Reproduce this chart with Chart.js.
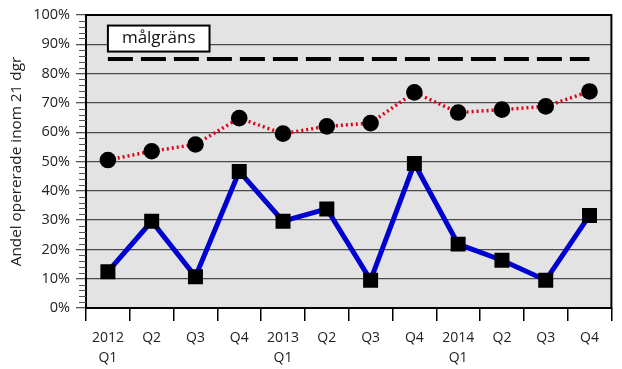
<!DOCTYPE html>
<html><head><meta charset="utf-8">
<script src="https://cdn.jsdelivr.net/npm/chart.js@4/dist/chart.umd.min.js"></script>
<style>html,body{margin:0;padding:0;background:#fff}#wrap{width:622px;height:369px}</style>
</head><body><div id="wrap"><canvas id="c" width="622" height="369"></canvas></div>
<script>
const categories = [['2012','Q1'],'Q2','Q3','Q4',['2013','Q1'],'Q2','Q3','Q4',['2014','Q1'],'Q2','Q3','Q4'];
const andelTotal = [50.5, 53.5, 55.8, 64.8, 59.5, 62.0, 63.1, 73.6, 66.7, 67.7, 68.8, 73.9];
const andelSerie2 = [12.4, 29.6, 10.7, 46.6, 29.6, 33.8, 9.5, 49.3, 21.8, 16.3, 9.5, 31.6];
const malgrans = [85, 85, 85, 85, 85, 85, 85, 85, 85, 85, 85, 85];
const malgransLabel = 'målgräns';
const yTitle = 'Andel opererade inom 21 dgr';
const yTicks = [0,10,20,30,40,50,60,70,80,90,100];

const FONT = '"Open Sans", sans-serif';

const bgPlugin = {
  id: 'bg',
  beforeDraw(chart) {
    const {ctx, chartArea: a} = chart;
    ctx.save();
    ctx.fillStyle = '#e3e3e3';
    ctx.fillRect(a.left, a.top, a.right - a.left, a.bottom - a.top);
    ctx.restore();
  },
  afterDatasetsDraw(chart) {
    const {ctx, chartArea: a, scales} = chart;
    ctx.save();
    ctx.strokeStyle = '#000';
    ctx.lineWidth = 2;
    ctx.strokeRect(a.left, a.top, a.right - a.left, a.bottom - a.top);
    // minor ticks on y axis
    const y = scales.y;
    ctx.lineWidth = 1;
    ctx.strokeStyle = '#555';
    for (let v = 0; v <= 100; v += 2) {
      if (v % 10 === 0) continue;
      const py = Math.round(y.getPixelForValue(v)) + 0.5;
      ctx.beginPath();
      ctx.moveTo(a.left - 7, py);
      ctx.lineTo(a.left, py);
      ctx.stroke();
    }
    // label box for målgräns
    const x = scales.x;
    const bx = x.getPixelForValue(0);
    const by = y.getPixelForValue(96.4);
    ctx.font = '17px ' + FONT;
    const tw = ctx.measureText(malgransLabel).width;
    const bw = tw + 28, bh = 26;
    ctx.fillStyle = '#fff';
    ctx.fillRect(bx, by, bw, bh);
    ctx.lineWidth = 2;
    ctx.strokeStyle = '#000';
    ctx.strokeRect(bx, by, bw, bh);
    ctx.fillStyle = '#111';
    ctx.textAlign = 'center';
    ctx.textBaseline = 'middle';
    ctx.fillText(malgransLabel, bx + bw / 2, by + bh / 2);
    ctx.restore();
  }
};

new Chart(document.getElementById('c'), {
  type: 'line',
  data: {
    labels: categories,
    datasets: [
      {
        label: malgransLabel,
        data: malgrans,
        borderColor: '#000',
        borderWidth: 4,
        borderDash: [25, 8],
        pointRadius: 0,
        fill: false,
        order: 3
      },
      {
        label: 'total',
        data: andelTotal,
        borderColor: '#e2001a',
        borderWidth: 3.5,
        borderDash: [2, 3],
        pointStyle: 'circle',
        pointRadius: 8.3,
        pointBackgroundColor: '#000',
        pointBorderColor: '#000',
        pointBorderWidth: 0,
        fill: false,
        order: 2
      },
      {
        label: 'serie2',
        data: andelSerie2,
        borderColor: '#0000d0',
        borderWidth: 5,
        pointStyle: 'rect',
        pointRadius: 10.6,
        pointBackgroundColor: '#000',
        pointBorderColor: '#000',
        pointBorderWidth: 0,
        fill: false,
        order: 1
      }
    ]
  },
  options: {
    responsive: false,
    animation: false,
    devicePixelRatio: 1,
    layout: { padding: { top: 15, right: 5, left: 0, bottom: 3 } },
    plugins: { legend: { display: false }, tooltip: { enabled: false } },
    scales: {
      x: {
        offset: true,
        afterFit(s) { s.height = 58; },
        grid: { offset: true, drawOnChartArea: false, color: '#000', lineWidth: 1.5, tickLength: 13 },
        border: { display: false },
        ticks: { font: { family: FONT, size: 14, lineHeight: 1.43 }, color: '#222', padding: 7, maxRotation: 0, autoSkip: false }
      },
      y: {
        min: 0, max: 100,
        afterFit(s) { s.width = 86; },
        afterBuildTicks(s) { s.ticks = yTicks.map(v => ({ value: v })); },
        grid: { color: '#4a4a4a', lineWidth: 1.3, tickLength: 10, tickColor: '#555' },
        border: { display: false },
        ticks: { font: { family: FONT, size: 14.5 }, color: '#222', padding: 6, callback: v => v + '%' },
        title: { display: true, text: yTitle, font: { family: FONT, size: 15.3 }, color: '#222', padding: { top: 7, bottom: 4 } }
      }
    }
  },
  plugins: [bgPlugin]
});
</script></body></html>
